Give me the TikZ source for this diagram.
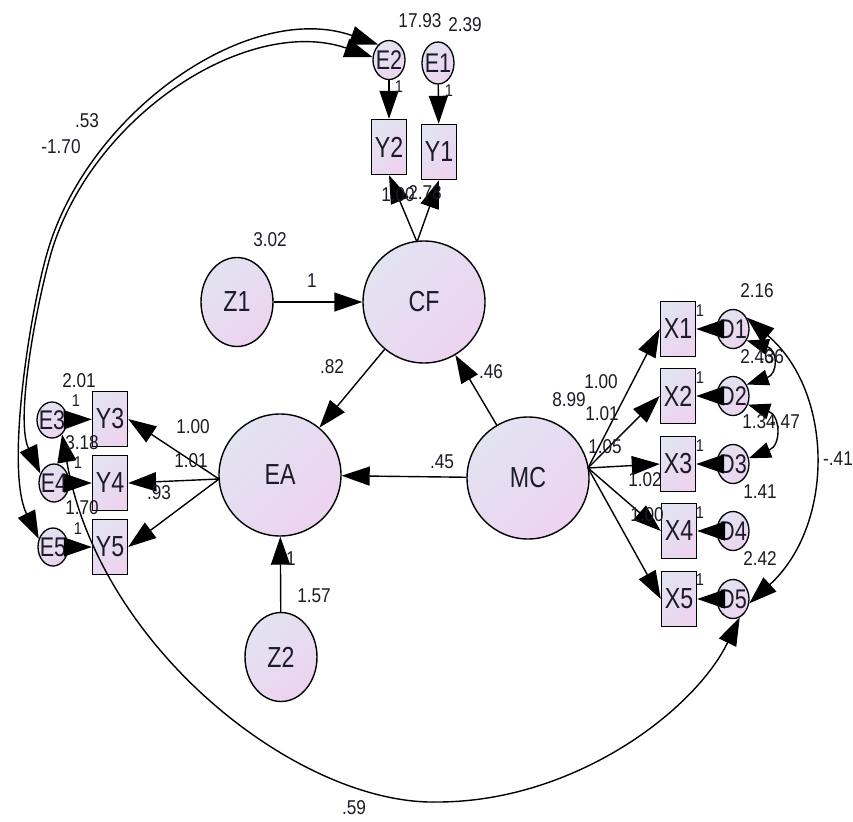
\documentclass[tikz,border=0pt]{standalone}
\usepackage{fontspec}
\setmainfont{Liberation Sans}
\newfontfamily\nodefont{Liberation Sans}[FakeStretch=0.8]
\newfontfamily\numfont{Liberation Sans}[FakeStretch=0.86]
\usetikzlibrary{shapes.geometric,arrows.meta}
\definecolor{lavA}{HTML}{E2E3F1}
\definecolor{lavB}{HTML}{EDD3F0}
\definecolor{txt}{HTML}{1C1C28}
\tikzset{
  shadefill/.style={top color=lavA, bottom color=lavB, shading angle=45},
  lat/.style={circle, draw, line width=1.4pt, minimum size=122pt, inner sep=0pt, shadefill,
    font=\nodefont\fontsize{29}{29}\selectfont, text=txt},
  zvar/.style={ellipse, draw, line width=1.4pt, minimum width=72pt, minimum height=89pt, inner sep=0pt, shadefill,
    font=\nodefont\fontsize{29}{29}\selectfont, text=txt},
  obs/.style={rectangle, draw, line width=1.4pt, minimum width=35pt, minimum height=55pt, inner sep=0pt, shadefill,
    font=\nodefont\fontsize{29}{29}\selectfont, text=txt},
  err/.style={ellipse, draw, line width=1.3pt, minimum width=32pt, minimum height=39pt, inner sep=0pt, shadefill,
    font=\nodefont\fontsize{27}{27}\selectfont, text=txt},
  num/.style={inner sep=0pt, font=\numfont\fontsize{20}{20}\selectfont, text=txt},
  one/.style={inner sep=0pt, font=\numfont\fontsize{17}{17}\selectfont, text=txt},
  arr/.style={line width=1.4pt, -{Triangle[length=28pt,width=19pt]}},
  dbl/.style={line width=1.4pt, {Triangle[length=28pt,width=19pt]}-{Triangle[length=28pt,width=19pt]}},
  dbls/.style={line width=1.4pt, {Triangle[length=22pt,width=16pt]}-{Triangle[length=22pt,width=16pt]}},
}
\begin{document}
\begin{tikzpicture}[x=1pt,y=-1pt]
\fill[white] (0,0) rectangle (853,821);
\useasboundingbox (0,0) rectangle (853,821);

% latent variables
\node[lat] (CF) at (424,302) {CF};
\node[lat] (EA) at (280,475) {EA};
\node[lat] (MC) at (528,478) {MC};
\node[zvar] (Z1) at (237,302) {Z1};
\node[zvar] (Z2) at (281,657) {Z2};

% observed
\node[obs] (Y2) at (389,147) {Y2};
\node[obs] (Y1) at (439,152) {Y1};
\node[obs] (Y3) at (110,419) {Y3};
\node[obs] (Y4) at (110,483) {Y4};
\node[obs] (Y5) at (110,547) {Y5};
\node[obs] (X1) at (678,329) {X1};
\node[obs] (X2) at (678,396) {X2};
\node[obs] (X3) at (678,464) {X3};
\node[obs] (X4) at (679,531) {X4};
\node[obs] (X5) at (679,599) {X5};

% errors
\node[err] (E2) at (389,60) {\makebox[0pt]{E2}};
\node[err, minimum height=42pt] (E1) at (438,63) {\makebox[0pt]{E1}};
\node[err, minimum width=30pt, minimum height=36pt] (E3) at (52,420) {\makebox[0pt]{E3}};
\node[err, minimum width=30pt, minimum height=38pt] (E4) at (54,483) {\makebox[0pt]{E4}};
\node[err, minimum width=30pt, minimum height=38pt] (E5) at (53,547) {\makebox[0pt]{E5}};
\node[err] (D1) at (733,329) {\makebox[0pt]{D1}};
\node[err] (D2) at (733,396) {\makebox[0pt]{D2}};
\node[err] (D3) at (733,464) {\makebox[0pt]{D3}};
\node[err] (D4) at (733,531) {\makebox[0pt]{D4}};
\node[err] (D5) at (733,599) {\makebox[0pt]{D5}};

% structural paths
\coordinate (cft) at (417,242);
\coordinate (eal) at (219,479);
\coordinate (mcr) at (588,468);
\draw[arr] (E2) -- (Y2);
\draw[arr] (E1) -- (Y1);
\draw[arr] (cft) -- (Y2.south);
\draw[arr] (cft) -- (Y1.south);
\draw[arr] (Z1) -- (CF);
\draw[arr] (CF) -- (EA);
\draw[arr] (MC) -- (CF);
\draw[arr] (MC) -- (EA);
\draw[arr] (Z2) -- (EA);
\draw[arr] (eal) -- (Y3.east);
\draw[arr] (eal) -- (Y4.east);
\draw[arr] (eal) -- (Y5.east);
\draw[arr] (mcr) -- (X1.west);
\draw[arr] (mcr) -- (X2.west);
\draw[arr] (mcr) -- (X3.west);
\draw[arr] (mcr) -- (X4.west);
\draw[arr] (mcr) -- (X5.west);
\draw[arr] (E3) -- (Y3);
\draw[arr] (E4) -- (Y4);
\draw[arr] (E5) -- (Y5);
\draw[arr] (D1) -- (X1);
\draw[arr] (D2) -- (X2);
\draw[arr] (D3) -- (X3);
\draw[arr] (D4) -- (X4);
\draw[arr] (D5) -- (X5);

% covariances
\draw[dbl] (E2.125) .. controls (250,0) and (90,110) .. (48,250)
           .. controls (30,310) and (5,470) .. (E5.150);
\draw[dbl] (E2.170) .. controls (250,15) and (95,112) .. (52,250)
           .. controls (36,305) and (15,420) .. (E4.145);
\draw[dbl] (E3.-55) .. controls (100,650) and (300,805) .. (437,802)
           .. controls (575,802) and (695,710) .. (D5.-70);
\draw[dbl] (D1.40) .. controls (834,392) and (835,525) .. (D5.-15);
\draw[dbls] (D1.-40) .. controls (778,350) and (778,374) .. (D2.40);
\draw[dbls] (D2.-30) .. controls (780,415) and (782,445) .. (D3.20);

% labels
\node[num] (t1) at (420,21) {17.93};
\node[num] (t2) at (465,25) {2.39};
\node[one] (t3) at (399,87) {1};
\node[one] (t4) at (449,91) {1};
\node[num] (t5) at (398,195) {1.00};
\node[num] (t6) at (425,193) {2.78};
\node[num] (t7) at (270,240) {3.02};
\node[num] (t8) at (312,281) {1};
\node[num] (t9) at (332,367) {.82};
\node[num] (t10) at (491,372) {.46};
\node[num] (t11) at (442,462) {.45};
\node[num] (t12) at (569,400) {8.99};
\node[num] (t13) at (601,382) {1.00};
\node[num] (t14) at (602,414) {1.01};
\node[num] (t15) at (605,447) {1.05};
\node[num] (t16) at (645,480) {1.02};
\node[num] (t17) at (647,515) {1.00};
\node[one] (t18) at (700,311) {1};
\node[one] (t19) at (700,378) {1};
\node[one] (t20) at (700,446) {1};
\node[one] (t21) at (700,513) {1};
\node[one] (t22) at (700,580) {1};
\node[num] (t23) at (757,291) {2.16};
\node[num] (t24) at (757,357) {2.46};
\node[num] (t25) at (772,357) {.36};
\node[num] (t26) at (759,422) {1.34};
\node[num] (t27) at (785,422) {-.47};
\node[num] (t28) at (760,492) {1.41};
\node[num] (t29) at (760,559) {2.42};
\node[num] (t30) at (838,459) {-.41};
\node[num] (t31) at (79,381) {2.01};
\node[one] (t32) at (76,401) {1};
\node[num] (t33) at (82,443) {3.18};
\node[one] (t34) at (78,463) {1};
\node[num] (t35) at (82,508) {1.70};
\node[one] (t36) at (78,529) {1};
\node[num] (t37) at (193,427) {1.00};
\node[num] (t38) at (191,461) {1.01};
\node[num] (t39) at (159,493) {.93};
\node[num] (t40) at (87,121) {.53};
\node[num] (t41) at (61,147) {-1.70};
\node[num] (t42) at (314,596) {1.57};
\node[num] (t43) at (291,559) {1};
\node[num] (t44) at (354,808) {.59};
\end{tikzpicture}
\end{document}
